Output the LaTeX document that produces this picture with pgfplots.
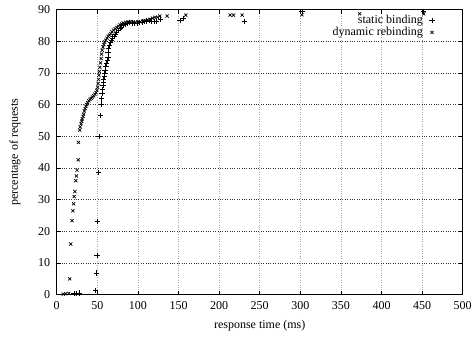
\documentclass[border=0pt]{standalone}
\usepackage{fontspec}
\setmainfont{Liberation Serif}
\usepackage{pgfplots}
\pgfplotsset{compat=1.18}
\usepackage{pgfplotstable}

\pgfplotstableread{
x y
21.4 0.3
24.7 0.4
28.4 0.5
47.8 1.3
49 6.8
49.8 12.4
50.2 23.2
51.8 38.6
52 50
53.9 56.6
55.2 60.2
55.5 62
56 63.6
56.5 64.8
57 66
57.5 67
58 68
58.5 69
59 70
59.5 70.8
60.5 72
61.5 73
62.5 74
63.3 75
63.3 76.5
64 77.8
65 78.8
66 79.6
67.5 80.3
69 81
70.5 81.6
72 82.2
74 82.9
76 83.5
78 84
80 84.5
82 85
84 85.4
87 85.7
90 85.9
93 85.8
96 85.7
99 85.8
102 86
105 86.1
108 86.3
111 86.4
114 86.5
117 86.4
120 86.3
123 86.3
128 87
152 86.6
156 87.3
231 86.3
302 89.5
452 89.5
}\staticdata

\pgfplotstableread{
x y
8 0.2
11 0.3
14.8 0.4
16 5
17.3 16
18.9 23.4
20 26.5
20.8 28.7
21.5 31
22.3 32.6
23.5 36
24.2 37.5
25 39.3
26.5 42.6
26.8 48.1
28.4 52
29 53
30 54
30.8 54.8
31.5 55.5
32.5 56.3
33.2 57
34 58
35 58.8
36 59.5
37 60
38 60.6
39.5 61.2
41 61.7
42.5 62
44 62.4
45.5 62.8
47 63.3
48.5 63.8
49.5 64.5
50.3 65.5
51 66.7
51.5 68
52 69.3
52.6 70.5
53.2 71.8
54 73.2
54.8 74.6
55.2 76
56 77.2
57 78.2
58 79
59 79.8
60.5 80.4
62 81
63.5 81.6
65 82
66.5 82.5
68 83
70 83.5
72 84
74 84.4
76 84.8
78 85.2
80 85.5
82 85.8
85 86
88 86.2
91 86.3
94 86.1
97 86
100 86.1
103 86.2
106 86.4
109 86.6
112 86.8
115 87
118 87.3
121 87.6
124 87.6
127 88
136 88
159 88.3
213.6 88.3
217.7 88.3
228.4 88.3
302 88.4
373 88.7
452 88.7
}\dynamicdata

\begin{document}
\begin{tikzpicture}
\useasboundingbox (0,0) rectangle (473pt,339pt);
\begin{axis}[
  scale only axis,
  width=406pt, height=285pt,
  at={(56.7pt,44.3pt)}, anchor=south west,
  xmin=0, xmax=500, ymin=0, ymax=90,
  xtick={0,50,...,500}, ytick={0,10,...,90},
  tick align=inside, major tick length=4pt,
  axis line style={line width=0.9pt},
  tick style={line width=0.6pt, black},
  grid=major,
  every axis x grid/.style={gray!70, dotted, line width=0.5pt},
  every axis y grid/.style={black!80, dotted, line width=0.6pt},
  font=\fontsize{12}{14}\selectfont,
  /pgf/number format/assume math mode=true,
  ticklabel style={font=\fontsize{12}{14}\selectfont},
  xticklabel style={yshift=-3pt},
  yticklabel style={xshift=-3pt},
  xlabel={response time (ms)},
  ylabel={percentage of requests},
  every axis x label/.style={at={(axis description cs:0.5,-0.1088)}, anchor=center},
  every axis y label/.style={at={(axis description cs:-0.1027,0.5)}, rotate=90, anchor=center},
  legend plot pos=right,
  legend cell align=right,
  legend style={draw=none, fill=none, at={(axis description cs:0.939,0.992)}, anchor=north east,
    nodes={inner sep=1.5pt}, row sep=-1pt, column sep=5pt,
    font=\fontsize{12}{14}\selectfont},
]
\addplot[only marks, mark=+, mark size=2.7pt, line width=0.7pt, black] table[x=x,y=y] {\staticdata};
\addlegendentry{static binding}
\addplot[only marks, mark=x, mark size=2.2pt, line width=0.7pt, black] table[x=x,y=y] {\dynamicdata};
\addlegendentry{dynamic rebinding}
\end{axis}
\end{tikzpicture}
\end{document}
